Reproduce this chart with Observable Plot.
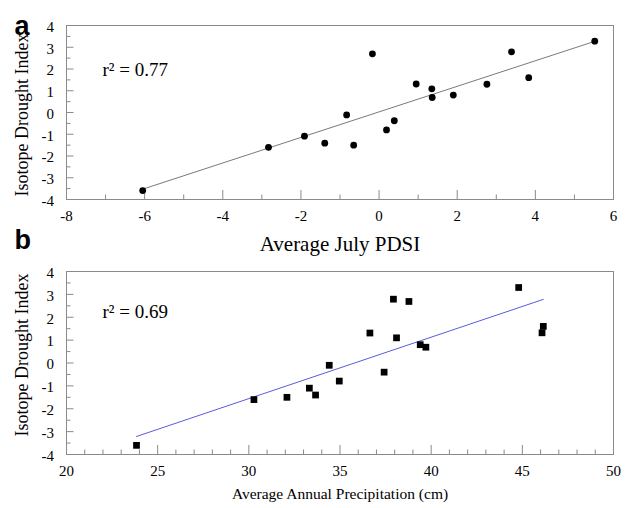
<!DOCTYPE html>
<html>
<head>
<meta charset="utf-8">
<script src="https://cdn.jsdelivr.net/npm/d3@7"></script>
<script src="https://cdn.jsdelivr.net/npm/@observablehq/plot@0.6"></script>
<style>
  html, body { margin: 0; padding: 0; background: #fff; }
  #chart { width: 630px; height: 508px; overflow: hidden; }
  #chart svg { display: block; }
</style>
</head>
<body>
<div id="chart"></div>
<script>
// ---- Panel a: Average July PDSI vs Isotope Drought Index ----
const pdsiA = [-6.05, -2.83, -1.91, -1.39, -0.83, -0.65, -0.17, 0.19, 0.39, 0.95, 1.35, 1.36, 1.90, 2.76, 3.39, 3.83, 5.52];
const idxA  = [-3.59, -1.60, -1.09, -1.41, -0.11, -1.50, 2.70, -0.80, -0.38, 1.31, 1.09, 0.69, 0.80, 1.30, 2.79, 1.60, 3.28];

// ---- Panel b: Average Annual Precipitation (cm) vs Isotope Drought Index ----
const precipB = [23.84, 30.28, 32.09, 33.32, 33.66, 34.41, 34.96, 36.64, 37.42, 37.93, 38.10, 38.78, 39.40, 39.71, 44.80, 46.15, 46.08];
const idxB    = [-3.60, -1.60, -1.50, -1.10, -1.40, -0.10, -0.79, 1.31, -0.40, 2.79, 1.10, 2.69, 0.80, 0.69, 3.30, 1.60, 1.32];

// ---- Ticks ----
const xTicksA = [-8, -6, -4, -2, 0, 2, 4, 6];
const xMinorA = [-7, -5, -3, -1, 1, 3, 5];
const xTicksB = [20, 25, 30, 35, 40, 45, 50];
const xMinorB = [21, 22, 23, 24, 26, 27, 28, 29, 31, 32, 33, 34, 36, 37, 38, 39, 41, 42, 43, 44, 46, 47, 48, 49];
const yTicks  = [-4, -3, -2, -1, 0, 1, 2, 3, 4];
const yMinor  = [-3.5, -2.5, -1.5, -0.5, 0.5, 1.5, 2.5, 3.5];

// ---- Texts ----
const panelLetters = ["a", "b"];
const xLabels = ["Average July PDSI", "Average Annual Precipitation (cm)"];
const yLabel = "Isotope Drought Index";
const r2Values = ["0.77", "0.69"];

const SERIF = "'Liberation Serif', 'Times New Roman', serif";
const AXIS_GRAY = "#8a8a8a";

function panel(o) {
  const data = o.xs.map((x, i) => ({x, y: o.ys[i]}));
  const marks = [
    Plot.frame({stroke: AXIS_GRAY, strokeWidth: 1}),
    Plot.axisX({ticks: o.xTicks, tickSize: -9, tickFormat: () => "", stroke: AXIS_GRAY, label: null}),
    Plot.axisX({ticks: o.xMinor, tickSize: -4.5, tickFormat: () => "", stroke: AXIS_GRAY, label: null}),
    Plot.axisX({ticks: o.xTicks, tickSize: 0, tickPadding: 11, tickFormat: d => String(d), fontSize: 15, fill: "#000", label: null}),
    Plot.axisY({ticks: yTicks, tickSize: -7.5, tickFormat: () => "", stroke: AXIS_GRAY, label: null}),
    Plot.axisY({ticks: yMinor, tickSize: -4.5, tickFormat: () => "", stroke: AXIS_GRAY, label: null}),
    Plot.axisY({ticks: yTicks, tickSize: 0, tickPadding: 12.5, dy: 1.5, tickFormat: d => String(d), fontSize: 15, fill: "#000", label: null}),
    Plot.linearRegressionY(data, {x: "x", y: "y", stroke: o.lineColor, strokeWidth: 1, ci: 0}),
    Plot.dot(data, {x: "x", y: "y", r: o.r, symbol: o.symbol, fill: "#000", stroke: null}),
    Plot.text([`r\u00B2 = ${o.r2}`], {text: d => d, frameAnchor: "top-left", dx: 36, dy: o.r2Dy, textAnchor: "start", lineAnchor: "middle", fontSize: 19, fill: "#000"}),
    Plot.text([yLabel], {text: d => d, frameAnchor: "left", dx: -44, dy: o.yTitleDy, rotate: -90, textAnchor: "middle", lineAnchor: "middle", fontSize: 18, fill: "#000"}),
    Plot.text([o.xLabel], {text: d => d, frameAnchor: "bottom", dy: o.xTitleDy, textAnchor: "middle", lineAnchor: "middle", fontSize: o.xTitleSize, fill: "#000"}),
    ...(o.extraMarks || [])
  ];
  return Plot.plot({
    width: 630,
    height: o.height,
    marginLeft: 66,
    marginRight: 17,
    marginTop: o.marginTop,
    marginBottom: o.marginBottom,
    style: {fontFamily: SERIF, fontSize: "15px", background: "#fff", overflow: "visible"},
    x: {domain: o.xDomain},
    y: {domain: [-4, 4]},
    marks
  });
}

const letterStyle = {text: d => d, textAnchor: "start", lineAnchor: "middle", fontFamily: "Liberation Sans", fontWeight: "bold", fontSize: 27, fill: "#000"};

const chartA = panel({
  xs: pdsiA, ys: idxA, xDomain: [-8, 6], xTicks: xTicksA, xMinor: xMinorA,
  lineColor: "#7a7a7a", r: 3.4, symbol: "circle", r2: r2Values[0],
  height: 258, marginTop: 25, marginBottom: 59,
  r2Dy: 44, yTitleDy: 2.5, xTitleDy: 45, xTitleSize: 21, xLabel: xLabels[0],
  extraMarks: [
    Plot.text([panelLetters[0]], {...letterStyle, frameAnchor: "top-left", dx: -52, dy: 1}),
    Plot.text([panelLetters[1]], {...letterStyle, frameAnchor: "bottom-left", dx: -52, dy: 41})
  ]
});

const chartB = panel({
  xs: precipB, ys: idxB, xDomain: [20, 50], xTicks: xTicksB, xMinor: xMinorB,
  lineColor: "#5a5ae0", r: 3.8, symbol: "square", r2: r2Values[1],
  height: 250, marginTop: 13, marginBottom: 54,
  r2Dy: 40, yTitleDy: -8, xTitleDy: 40, xTitleSize: 15.5, xLabel: xLabels[1]
});

document.getElementById("chart").append(chartA, chartB);
</script>
</body>
</html>
